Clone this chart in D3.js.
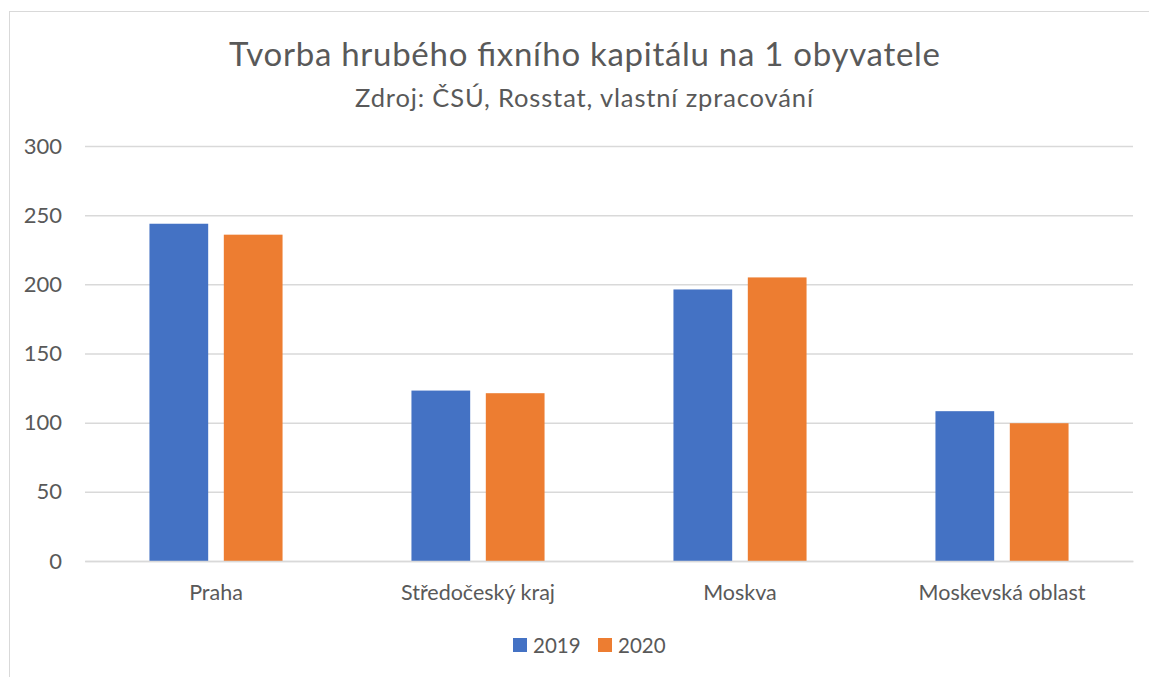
<!DOCTYPE html>
<html><head><meta charset="utf-8">
<script src="https://cdn.jsdelivr.net/npm/d3@7"></script>
<style>body{margin:0;background:#fff;} text{font-family:Lato,"Open Sans",sans-serif;fill:#595959;}</style>
</head><body>
<svg id="c" width="1149" height="677"></svg>
<script>
const categories = ["Praha", "Středočeský kraj", "Moskva", "Moskevská oblast"];
const seriesNames = ["2019", "2020"];
const values2019 = [243.8, 123.2, 196.3, 108.3];
const values2020 = [235.9, 121.3, 205.0, 99.6];
const yTicks = [0, 50, 100, 150, 200, 250, 300];
const colors = ["#4472C4", "#ED7D31"];
const title = "Tvorba hrubého fixního kapitálu na 1 obyvatele";
const subtitle = "Zdroj: ČSÚ, Rosstat, vlastní zpracování";

const svg = d3.select("#c");
svg.append("rect").attr("x",9.5).attr("y",11.5).attr("width",1200).attr("height",700)
  .attr("fill","#fff").attr("stroke","#D9D9D9").attr("stroke-width",1);

const L=85, R=1133, T=146, B=561;
const y = d3.scaleLinear().domain([0,300]).range([B,T]);
const x0 = d3.scaleBand().domain(categories).range([L,R]).paddingInner(0.492).paddingOuter(0.246);
const x1 = d3.scaleBand().domain(seriesNames).range([0,x0.bandwidth()]).paddingInner(0.21);

// grid
const yAxis = d3.axisLeft(y).tickValues(yTicks).tickSize(-(R-L)).tickPadding(23);
const ga = svg.append("g").attr("transform",`translate(${L},0)`).call(yAxis);
ga.select(".domain").remove();
ga.selectAll(".tick line").attr("stroke","#D9D9D9").attr("stroke-width",1.5);
ga.selectAll(".tick text").style("font-size","22px").style("fill","#595959").style("font-family","Lato,sans-serif");

const data = categories.map((c,i)=>({cat:c, vals:[values2019[i], values2020[i]]}));
const g = svg.append("g");
data.forEach(d=>{
  d.vals.forEach((v,j)=>{
    g.append("rect").attr("x", x0(d.cat)+x1(seriesNames[j])).attr("y", y(v))
      .attr("width", x1.bandwidth()).attr("height", y(0)-y(v)).attr("fill", colors[j]);
  });
});

// x axis
const xAxis = d3.axisBottom(x0).tickSize(0).tickPadding(24);
const gx = svg.append("g").attr("transform",`translate(0,${B})`).call(xAxis);
gx.select(".domain").attr("stroke","#D9D9D9").attr("stroke-width",1.5);
gx.selectAll(".tick text").style("font-size","21.5px").style("fill","#595959").style("font-family","Lato,sans-serif");

svg.append("text").attr("x",584.5).attr("y",66).attr("text-anchor","middle").style("font-size","33px")
  .attr("textLength",711).attr("lengthAdjust","spacing").text(title);
svg.append("text").attr("x",584).attr("y",107).attr("text-anchor","middle").style("font-size","25.5px")
  .attr("textLength",458).attr("lengthAdjust","spacing").text(subtitle);

// legend
const legX = [513, 598];
seriesNames.forEach((s,j)=>{
  svg.append("rect").attr("x",legX[j]).attr("y",638).attr("width",14).attr("height",14).attr("fill",colors[j]);
  svg.append("text").attr("x",legX[j]+20).attr("y",653).style("font-size","20.5px").text(s);
});
</script>
</body></html>
